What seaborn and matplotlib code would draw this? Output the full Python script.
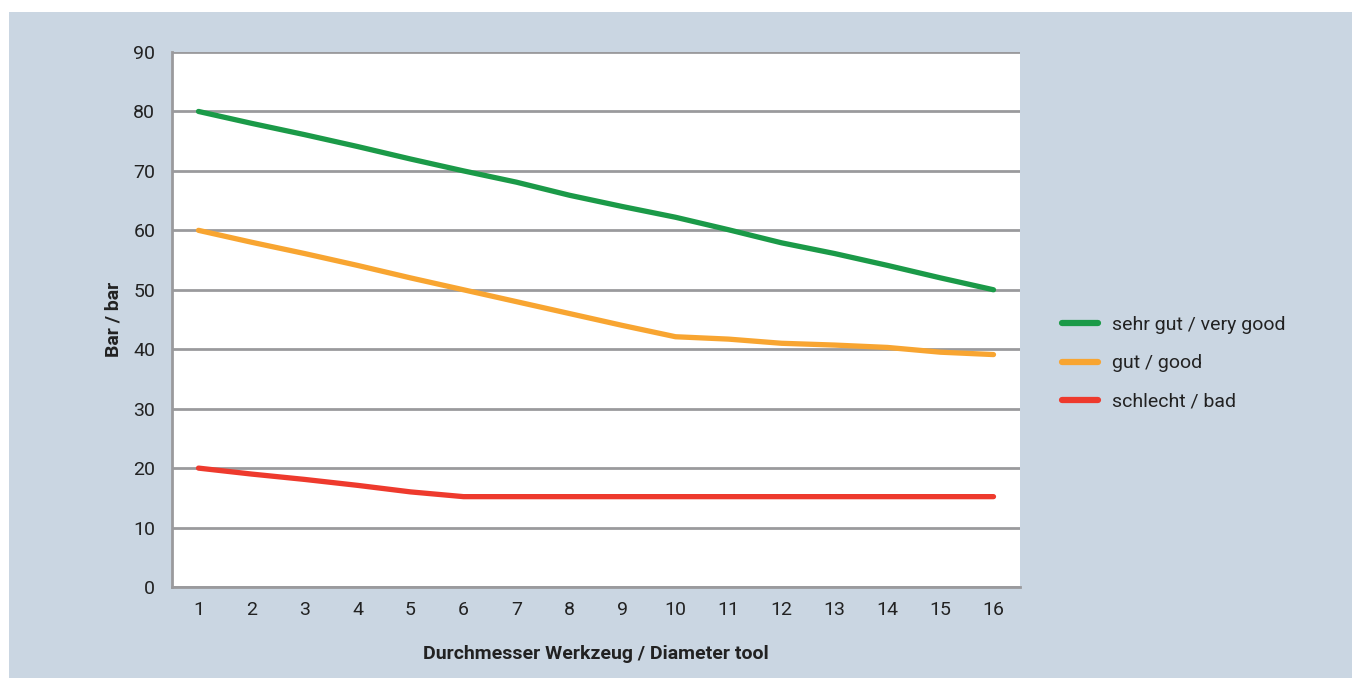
import numpy as np
import pandas as pd
import matplotlib
matplotlib.use("Agg")
import matplotlib.pyplot as plt
import seaborn as sns
from matplotlib.patches import Rectangle
from matplotlib.ticker import FixedLocator

# --- data ---
diameters = list(range(1, 17))
very_good = [80, 78, 76.1, 74.1, 72, 70, 68.1, 65.9, 64, 62.2, 60.1, 57.9, 56.1, 54.1, 52, 50]
good = [60, 58, 56.1, 54.1, 52, 50, 48, 46, 44, 42.1, 41.7, 41.0, 40.7, 40.3, 39.5, 39.1]
bad = [20, 19, 18.1, 17.1, 16, 15.2, 15.2, 15.2, 15.2, 15.2, 15.2, 15.2, 15.2, 15.2, 15.2, 15.2]
series_names = ["sehr gut / very good", "gut / good", "schlecht / bad"]
series_colors = ["#1b9a48", "#f8a531", "#ee3a2d"]

df = pd.concat([
    pd.DataFrame({"x": diameters, "y": vals, "series": name})
    for name, vals in zip(series_names, [very_good, good, bad])
])

sns.set_theme(style="white")
plt.rcParams["font.family"] = ["Roboto", "DejaVu Sans"]

BG = "#cad6e2"
GRID = "#9a9a9d"
TXT = "#222222"
FS = 14

fig = plt.figure(figsize=(13.52, 6.78), dpi=100, facecolor="white")
# blue panel behind the chart (white strip on top and left)
fig.patches.append(Rectangle((9 / 1352, 0), 1, 1 - 12 / 678, transform=fig.transFigure,
                             facecolor=BG, edgecolor="none", zorder=-10))

ax = fig.add_axes([172 / 1352, 1 - 587 / 678, (1020 - 172) / 1352, (587 - 52) / 678])
ax.set_facecolor("white")

sns.lineplot(data=df, x="x", y="y", hue="series", hue_order=series_names,
             palette=series_colors, linewidth=3.8, ax=ax, legend=True,
             solid_capstyle="round")

ax.set_xlim(0.5, 16.5)
ax.set_ylim(0, 90)
ax.set_yticks(range(0, 91, 10))
ax.yaxis.grid(True, color=GRID, linewidth=2)
ax.set_axisbelow(True)

ax.set_xticks(diameters)
ax.xaxis.set_minor_locator(FixedLocator(np.arange(0.5, 17, 1)))
ax.tick_params(axis="x", which="major", length=0, pad=10, labelsize=FS, colors=TXT)
ax.tick_params(axis="x", which="minor", length=7, width=2, color=GRID, direction="out")
ax.tick_params(axis="y", which="major", length=7, width=2, color=GRID, pad=5,
               labelsize=FS, labelcolor=TXT)

for side in ["top", "right"]:
    ax.spines[side].set_visible(False)
for side in ["left", "bottom"]:
    ax.spines[side].set_color(GRID)
    ax.spines[side].set_linewidth(2)

ax.set_xlabel("Durchmesser Werkzeug / Diameter tool", fontsize=FS, fontweight="bold",
              color=TXT, labelpad=19)
ax.set_ylabel("Bar / bar", fontsize=FS, fontweight="bold", color=TXT, labelpad=8)

leg = ax.legend(loc="center left", bbox_to_anchor=(1.029, 0.418), frameon=False,
                fontsize=FS, handlelength=1.85, handletextpad=0.72, labelspacing=1.05)
for line in leg.get_lines():
    line.set_linewidth(4.5)
    line.set_solid_capstyle("round")
for text in leg.get_texts():
    text.set_color(TXT)

fig.savefig("out.png", dpi=100, facecolor=fig.get_facecolor())
